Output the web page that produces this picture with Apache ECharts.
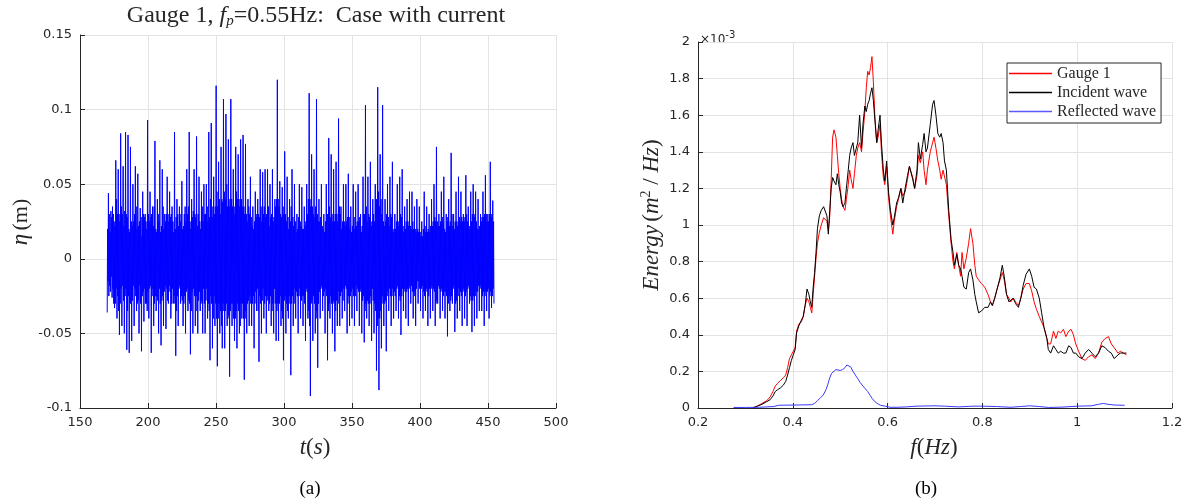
<!DOCTYPE html>
<html><head><meta charset="utf-8">
<script src="https://cdn.jsdelivr.net/npm/echarts@6/dist/echarts.min.js"></script>
<style>html,body{margin:0;padding:0;background:#fff}#c{width:1190px;height:502px}</style>
</head><body><div id="c"></div>
<script>
// ---- Panel (a): surface elevation time series ----
const etaStart = 170;      // s
const etaStep = 0.3;       // s between successive samples
// main crests / troughs (every third sample)
const etaExtremes = [
-0.036,0.044,-0.018,0.032,-0.026,0.03,-0.033,0.066,-0.04,0.06,
-0.051,0.084,-0.045,0.062,-0.05,0.085,-0.061,0.083,-0.063,0.075,
-0.055,0.05,-0.045,0.062,-0.035,0.057,-0.05,0.034,-0.062,0.045,
-0.042,0.03,-0.03,0.093,-0.04,0.045,-0.063,0.035,-0.045,0.079,
-0.035,0.04,-0.05,0.066,-0.058,0.06,-0.045,0.03,-0.047,0.055,
-0.03,0.045,-0.04,0.035,-0.03,0.085,-0.065,0.04,-0.045,0.035,
-0.03,0.052,-0.045,0.03,-0.05,0.06,-0.035,0.085,-0.064,0.04,
-0.05,0.06,-0.045,0.082,-0.05,0.055,-0.035,0.045,-0.05,0.05,
-0.05,0.05,-0.04,0.085,-0.068,0.091,-0.06,0.055,-0.045,0.116,
-0.072,0.065,-0.05,0.075,-0.06,0.107,-0.06,0.097,-0.045,0.08,
-0.079,0.107,-0.045,0.06,-0.055,0.075,-0.06,0.07,-0.05,0.08,
-0.04,0.083,-0.081,0.077,-0.05,0.04,-0.045,0.055,-0.045,0.035,
-0.06,0.045,-0.035,0.04,-0.069,0.06,-0.05,0.058,-0.04,0.06,
-0.05,0.06,-0.035,0.05,-0.045,0.06,-0.05,0.04,-0.055,0.12,
-0.055,0.052,-0.045,0.048,-0.068,0.072,-0.05,0.055,-0.04,0.04,
-0.078,0.06,-0.045,0.05,-0.04,0.03,-0.05,0.05,-0.04,0.048,
-0.045,0.035,-0.055,0.05,-0.04,0.111,-0.092,0.07,-0.055,0.06,
-0.05,0.107,-0.073,0.04,-0.04,0.05,-0.035,0.03,-0.05,0.05,
-0.068,0.081,-0.04,0.07,-0.05,0.06,-0.062,0.065,-0.045,0.094,
-0.045,0.035,-0.04,0.05,-0.035,0.05,-0.05,0.057,-0.045,0.035,
-0.04,0.05,-0.045,0.045,-0.035,0.05,-0.045,0.03,-0.05,0.055,
-0.056,0.103,-0.04,0.055,-0.045,0.065,-0.055,0.04,-0.05,0.05,
-0.075,0.115,-0.088,0.07,-0.06,0.103,-0.045,0.04,-0.062,0.05,
-0.035,0.055,-0.045,0.065,-0.04,0.03,-0.035,0.05,-0.04,0.055,
-0.051,0.06,-0.035,0.035,-0.04,0.04,-0.045,0.045,-0.03,0.045,
-0.04,0.035,-0.045,0.04,-0.03,0.035,-0.035,0.025,-0.04,0.045,
-0.035,0.035,-0.045,0.03,-0.04,0.04,-0.035,0.05,-0.045,0.075,
-0.03,0.03,-0.04,0.045,-0.035,0.055,-0.04,0.03,-0.052,0.04,
-0.035,0.071,-0.03,0.03,-0.049,0.045,-0.04,0.055,-0.035,0.045,
-0.045,0.03,-0.04,0.056,-0.045,0.035,-0.03,0.045,-0.049,0.05,
-0.045,0.045,-0.04,0.04,-0.035,0.03,-0.035,0.045,-0.045,0.056,
-0.035,0.03,-0.04,0.065,-0.033,0.039,-0.03
];
// the two samples between each pair of successive extremes
const etaInner = [
0.02,-0.015,-0.025,0.03,0.018,-0.022,-0.012,0.028,0.035,-0.02,-0.03,0.025,0.022,-0.03,-0.02,0.04,0.03,-0.025,-0.035,0.03,
0.025,-0.03,-0.02,0.035,0.03,-0.018,-0.028,0.022,0.032,-0.025,-0.02,0.03,0.028,-0.035,-0.025,0.02,0.018,-0.03,-0.03,0.025,
0.022,-0.028,-0.018,0.025,0.03,-0.02,-0.025,0.035,0.02,-0.03,-0.028,0.022,0.025,-0.018,-0.03,0.028,0.015,-0.025,-0.022,0.03,
0.028,-0.02,-0.03,0.025,0.02,-0.035,-0.022,0.03,0.025,-0.02,-0.018,0.028,0.03,-0.025,-0.02,0.022,0.035,-0.03,-0.025,0.02,
0.018,-0.025,-0.028,0.03,0.025,-0.02,-0.03,0.018,0.022,-0.028,-0.025,0.035,0.02,-0.022,-0.018,0.025,0.03,-0.02,-0.028,0.03,
0.025,-0.018,-0.022,0.028,0.03,-0.03,-0.02,0.025,0.018,-0.025,-0.03,0.02,0.028,-0.035,-0.025,0.03,0.022,-0.02,-0.018,0.025,
0.03,-0.025,-0.028,0.02,0.022,-0.03,-0.025,0.035,0.025,-0.022,-0.02,0.03,0.035,-0.028,-0.03,0.025,0.02,-0.035,-0.022,0.028,
0.032,-0.02,-0.025,0.03,0.028,-0.025,-0.035,0.022,0.03,-0.028,-0.022,0.025,0.02,-0.03,-0.028,0.035,0.025,-0.02,-0.03,0.03,
0.03,-0.028,-0.02,0.035,0.025,-0.03,-0.035,0.028,0.04,-0.025,-0.03,0.035,0.028,-0.04,-0.025,0.03,0.035,-0.03,-0.04,0.045,
0.035,-0.04,-0.03,0.04,0.03,-0.035,-0.045,0.04,0.038,-0.03,-0.035,0.045,0.04,-0.035,-0.03,0.05,0.035,-0.04,-0.038,0.035,
0.04,-0.035,-0.03,0.04,0.035,-0.03,-0.04,0.035,0.03,-0.04,-0.035,0.045,0.04,-0.03,-0.035,0.04,0.035,-0.045,-0.03,0.04,
0.035,-0.03,-0.04,0.035,0.03,-0.04,-0.035,0.03,0.025,-0.03,-0.028,0.035,0.03,-0.025,-0.03,0.028,0.022,-0.03,-0.025,0.02,
0.025,-0.03,-0.022,0.028,0.03,-0.02,-0.035,0.03,0.028,-0.025,-0.03,0.035,0.025,-0.028,-0.02,0.03,0.035,-0.03,-0.025,0.028,
0.03,-0.025,-0.028,0.035,0.022,-0.03,-0.025,0.028,0.03,-0.035,-0.03,0.025,0.028,-0.02,-0.03,0.035,0.04,-0.035,-0.03,0.04,
0.035,-0.03,-0.025,0.03,0.028,-0.035,-0.04,0.035,0.03,-0.028,-0.025,0.03,0.025,-0.03,-0.035,0.028,0.02,-0.025,-0.03,0.025,
0.035,-0.03,-0.025,0.028,0.022,-0.03,-0.02,0.025,0.018,-0.022,-0.025,0.02,0.028,-0.025,-0.02,0.025,0.022,-0.028,-0.025,0.02,
0.02,-0.025,-0.03,0.022,0.025,-0.02,-0.022,0.03,0.04,-0.035,-0.045,0.04,0.035,-0.03,-0.028,0.035,0.03,-0.025,-0.03,0.028,
0.035,-0.04,-0.035,0.03,0.025,-0.03,-0.022,0.025,0.028,-0.02,-0.018,0.022,0.02,-0.025,-0.022,0.018,0.025,-0.02,-0.025,0.03,
0.03,-0.035,-0.03,0.035,0.028,-0.025,-0.03,0.03,0.025,-0.028,-0.03,0.025,0.03,-0.035,-0.028,0.03,0.025,-0.022,-0.03,0.035,
0.03,-0.025,-0.022,0.02,0.025,-0.028,-0.02,0.025,0.022,-0.018,-0.02,0.025,0.028,-0.03,-0.025,0.028,0.02,-0.025,-0.022,0.018,
0.022,-0.02,-0.025,0.028,0.02,-0.025,-0.018,0.022,0.025,-0.02,-0.022,0.025,0.028,-0.022,-0.02,0.018,0.022,-0.028,-0.025,0.03,
0.03,-0.035,-0.03,0.035,0.025,-0.028,-0.03,0.03,0.028,-0.03,-0.025,0.022,0.025,-0.02,-0.028,0.03,0.025,-0.03,-0.035,0.04,
0.04,-0.045,-0.04,0.045,0.035,-0.04,-0.035,0.04,0.03,-0.025,-0.03,0.025,0.022,-0.03,-0.028,0.025,0.03,-0.025,-0.022,0.028,
0.022,-0.02,-0.025,0.03,0.028,-0.025,-0.02,0.018,0.02,-0.022,-0.025,0.02,0.025,-0.02,-0.018,0.025,0.022,-0.025,-0.028,0.03,
0.028,-0.025,-0.02,0.022,0.018,-0.02,-0.022,0.02,0.025,-0.022,-0.02,0.025,0.022,-0.018,-0.02,0.022,0.02,-0.018,-0.022,0.025,
0.02,-0.022,-0.025,0.02,0.018,-0.02,-0.015,0.02,0.018,-0.015,-0.02,0.018,0.015,-0.02,-0.018,0.015,0.02,-0.022,-0.025,0.022,
0.018,-0.02,-0.022,0.018,0.02,-0.025,-0.02,0.018,0.022,-0.02,-0.018,0.022,0.025,-0.02,-0.022,0.028,0.025,-0.03,-0.028,0.025,
0.022,-0.018,-0.02,0.022,0.025,-0.022,-0.02,0.028,0.025,-0.025,-0.022,0.02,0.018,-0.022,-0.025,0.025,0.028,-0.03,-0.025,0.022,
0.025,-0.028,-0.025,0.03,0.022,-0.02,-0.018,0.02,0.025,-0.03,-0.028,0.025,0.022,-0.025,-0.02,0.028,0.025,-0.022,-0.025,0.028,
0.025,-0.022,-0.02,0.025,0.028,-0.025,-0.022,0.03,0.025,-0.02,-0.018,0.022,0.02,-0.025,-0.028,0.025,0.03,-0.028,-0.025,0.03,
0.028,-0.025,-0.022,0.025,0.02,-0.022,-0.018,0.02,0.022,-0.018,-0.02,0.025,0.028,-0.025,-0.022,0.028,0.03,-0.025,-0.022,0.03,
0.025,-0.022,-0.02,0.025,0.03,-0.025,-0.022,0.028,0.03,-0.025,-0.02,0.025
];

// ---- Panel (b): energy spectra (values in units of 1e-3 m^2/Hz) ----
const specFreq = [
0.315,0.325,0.335,0.345,0.352,0.358,0.363,0.368,0.374,0.38,0.385,0.389,0.393,0.397,0.401,0.405,0.408,0.413,0.418,0.422,
0.426,0.43,0.434,0.437,0.44,0.443,0.446,0.449,0.452,0.456,0.46,0.465,0.469,0.472,0.475,0.478,0.481,0.484,0.487,0.491,
0.494,0.497,0.5,0.503,0.506,0.51,0.513,0.517,0.52,0.523,0.527,0.53,0.534,0.537,0.541,0.545,0.548,0.552,0.555,0.558,
0.561,0.564,0.567,0.57,0.573,0.577,0.58,0.584,0.587,0.591,0.594,0.598,0.602,0.606,0.611,0.614,0.619,0.623,0.628,0.632,
0.637,0.642,0.646,0.65,0.653,0.657,0.662,0.665,0.669,0.674,0.677,0.681,0.684,0.69,0.695,0.698,0.702,0.706,0.71,0.713,
0.717,0.72,0.724,0.729,0.734,0.738,0.741,0.746,0.75,0.754,0.757,0.761,0.766,0.771,0.775,0.78,0.784,0.787,0.792,0.798,
0.805,0.812,0.817,0.821,0.826,0.831,0.837,0.842,0.846,0.851,0.856,0.86,0.865,0.87,0.876,0.881,0.886,0.892,0.899,0.904,
0.909,0.914,0.92,0.925,0.93,0.936,0.939,0.944,0.95,0.955,0.96,0.965,0.971,0.976,0.982,0.987,0.992,0.997,1.003,1.01,
1.017,1.024,1.031,1.038,1.045,1.052,1.059,1.066,1.072,1.078,1.086,1.091,1.098,1.104
];
const gaugeEnergy = [
0,0.01,0.025,0.04,0.06,0.09,0.12,0.135,0.15,0.165,0.18,0.22,0.27,0.29,0.31,0.33,0.42,0.46,0.47,0.5,
0.56,0.6,0.58,0.55,0.52,0.62,0.72,0.82,0.9,0.96,1.0,1.04,1.05,1.02,0.97,1.05,1.25,1.48,1.52,1.48,
1.38,1.28,1.2,1.14,1.1,1.08,1.14,1.22,1.3,1.25,1.2,1.28,1.38,1.42,1.45,1.4,1.5,1.62,1.75,1.84,
1.82,1.86,1.92,1.78,1.6,1.45,1.48,1.55,1.4,1.26,1.22,1.32,1.15,1.05,0.95,1.02,1.1,1.14,1.2,1.16,
1.18,1.25,1.32,1.33,1.26,1.2,1.27,1.38,1.34,1.4,1.3,1.22,1.3,1.4,1.45,1.48,1.42,1.35,1.3,1.25,
1.3,1.3,1.22,1.05,0.9,0.8,0.76,0.85,0.78,0.72,0.85,0.76,0.82,0.9,0.98,0.9,0.78,0.72,0.7,0.68,
0.66,0.62,0.58,0.56,0.6,0.65,0.7,0.74,0.7,0.62,0.6,0.58,0.6,0.58,0.56,0.6,0.65,0.68,0.68,0.64,
0.58,0.54,0.5,0.47,0.44,0.38,0.35,0.35,0.42,0.38,0.42,0.41,0.43,0.39,0.42,0.43,0.4,0.35,0.31,0.27,
0.26,0.28,0.29,0.27,0.3,0.36,0.38,0.39,0.35,0.33,0.3,0.31,0.3,0.29
];
const incidentEnergy = [
0,0.01,0.02,0.035,0.045,0.065,0.09,0.1,0.11,0.125,0.145,0.18,0.22,0.26,0.29,0.32,0.41,0.45,0.48,0.5,
0.56,0.65,0.62,0.58,0.55,0.66,0.74,0.85,0.98,1.05,1.08,1.1,1.1,1.05,0.95,1.08,1.2,1.26,1.24,1.22,
1.28,1.22,1.18,1.12,1.1,1.12,1.2,1.3,1.38,1.42,1.45,1.38,1.42,1.45,1.6,1.42,1.55,1.65,1.62,1.66,
1.68,1.72,1.75,1.68,1.58,1.45,1.52,1.6,1.45,1.3,1.24,1.35,1.18,1.08,1.0,1.04,1.12,1.15,1.2,1.12,
1.2,1.27,1.32,1.33,1.25,1.2,1.3,1.45,1.36,1.44,1.5,1.4,1.42,1.55,1.66,1.68,1.6,1.5,1.48,1.5,
1.45,1.35,1.3,1.08,0.92,0.85,0.78,0.84,0.78,0.76,0.72,0.66,0.65,0.74,0.76,0.7,0.62,0.58,0.52,0.53,
0.55,0.55,0.58,0.56,0.6,0.65,0.71,0.78,0.72,0.62,0.58,0.57,0.6,0.57,0.55,0.6,0.67,0.73,0.76,0.72,
0.66,0.65,0.6,0.52,0.44,0.38,0.32,0.3,0.34,0.32,0.3,0.31,0.3,0.3,0.34,0.33,0.3,0.3,0.28,0.27,
0.3,0.32,0.3,0.28,0.3,0.34,0.33,0.31,0.3,0.27,0.29,0.3,0.3,0.3
];
const reflFreq = [
0.275,0.3,0.33,0.36,0.37,0.4,0.44,0.446,0.452,0.458,0.464,0.47,0.474,0.478,0.482,0.486,0.491,0.495,0.5,0.505,
0.51,0.514,0.518,0.522,0.527,0.532,0.537,0.542,0.548,0.553,0.558,0.563,0.568,0.573,0.578,0.585,0.595,0.605,0.62,0.64,
0.66,0.7,0.72,0.75,0.78,0.8,0.83,0.86,0.88,0.9,0.92,0.94,0.97,1.0,1.03,1.045,1.055,1.065,1.08,1.1
];
const reflectedEnergy = [
0.003,0.003,0.004,0.008,0.015,0.016,0.018,0.025,0.04,0.055,0.07,0.1,0.13,0.165,0.19,0.2,0.21,0.2,0.205,0.21,
0.22,0.235,0.24,0.225,0.2,0.18,0.16,0.14,0.12,0.105,0.09,0.07,0.05,0.035,0.025,0.015,0.01,0.004,0.004,0.006,
0.01,0.012,0.01,0.006,0.01,0.01,0.008,0.004,0.008,0.012,0.008,0.003,0.005,0.01,0.012,0.02,0.025,0.02,0.016,0.015
];
const seriesNames = ['Gauge 1', 'Incident wave', 'Reflected wave'];

// build the elevation table: extreme, inner, inner, extreme, ...
const etaData = [];
etaExtremes.forEach((v, i) => {
  etaData.push([etaStart + etaData.length * etaStep, v]);
  if (i < etaExtremes.length - 1) {
    etaData.push([etaStart + etaData.length * etaStep, etaInner[2 * i]]);
    etaData.push([etaStart + etaData.length * etaStep, etaInner[2 * i + 1]]);
  }
});
const pair = (fs, es) => fs.map((f, i) => [f, es[i]]);

const AX = '#262626';
function axisCommon(extra, margin) {
  return Object.assign({
    type: 'value',
    axisLine: { show: true, onZero: false, lineStyle: { color: AX, width: 1 } },
    axisTick: { show: true, inside: true, length: 5, lineStyle: { color: AX } },
    axisLabel: { color: AX, fontFamily: 'DejaVu Sans', fontSize: 13, margin: margin },
    splitLine: { show: true, lineStyle: { color: '#e3e3e3', width: 1 } }
  }, extra);
}
const serif = 'Liberation Serif';
const chart = echarts.init(document.getElementById('c'), null, { renderer: 'canvas' });
chart.setOption({
  animation: false,
  backgroundColor: '#fff',
  grid: [
    { left: 80, top: 35, width: 476, height: 373 },
    { left: 698, top: 42, width: 474, height: 366 }
  ],
  xAxis: [
    axisCommon({ gridIndex: 0, min: 150, max: 500, interval: 50 }, 8),
    axisCommon({ gridIndex: 1, min: 0.2, max: 1.2, interval: 0.2 }, 8)
  ],
  yAxis: [
    axisCommon({ gridIndex: 0, min: -0.1, max: 0.15, interval: 0.05 }, 8),
    axisCommon({ gridIndex: 1, min: 0, max: 2, interval: 0.2 }, 8)
  ],
  legend: {
    data: seriesNames, orient: 'vertical', left: 1007, top: 63,
    icon: 'rect', itemWidth: 43, itemHeight: 1.5, itemGap: 2, selectedMode: false,
    padding: [2, 5, 3, 2], borderColor: AX, borderWidth: 1, backgroundColor: '#fff',
    textStyle: { fontFamily: serif, fontSize: 16, lineHeight: 17, color: AX }
  },
  series: [
    { type: 'line', xAxisIndex: 0, yAxisIndex: 0, data: etaData, showSymbol: false, symbol: 'none',
      lineStyle: { color: '#0000ff', width: 1 }, itemStyle: { color: '#0000ff' } },
    { name: seriesNames[0], type: 'line', xAxisIndex: 1, yAxisIndex: 1, data: pair(specFreq, gaugeEnergy), symbol: 'none',
      lineStyle: { color: '#ff0000', width: 1 }, itemStyle: { color: '#ff0000' }, z: 3 },
    { name: seriesNames[1], type: 'line', xAxisIndex: 1, yAxisIndex: 1, data: pair(specFreq, incidentEnergy), symbol: 'none',
      lineStyle: { color: '#000000', width: 1 }, itemStyle: { color: '#000000' }, z: 4 },
    { name: seriesNames[2], type: 'line', xAxisIndex: 1, yAxisIndex: 1, data: pair(reflFreq, reflectedEnergy), symbol: 'none',
      lineStyle: { color: '#3a3aff', width: 1 }, itemStyle: { color: '#5a5aff' }, z: 5 }
  ],
  graphic: [
    { type: 'text', x: 316, y: 16, style: {
        text: '{n|Gauge 1, }{i|f}{s|p}{n|=0.55Hz:  Case with current}',
        align: 'center', verticalAlign: 'middle',
        rich: { n: { fontFamily: serif, fontSize: 24, fill: '#262626' },
                i: { fontFamily: serif, fontSize: 24, fontStyle: 'italic', fill: '#262626' },
                s: { fontFamily: serif, fontSize: 15, fontStyle: 'italic', fill: '#262626', padding: [10, 0, 0, 0] } } } },
    { type: 'text', x: 21, y: 222, rotation: Math.PI / 2, style: {
        text: '{i|η} {n|(m)}', align: 'center', verticalAlign: 'middle',
        rich: { i: { fontFamily: serif, fontSize: 23, fontStyle: 'italic', fill: '#262626' },
                n: { fontFamily: serif, fontSize: 22, fill: '#262626' } } } },
    { type: 'text', x: 315, y: 448, style: {
        text: '{i|t}{n|(}{i|s}{n|)}', align: 'center', verticalAlign: 'middle',
        rich: { i: { fontFamily: serif, fontSize: 23, fontStyle: 'italic', fill: '#262626' },
                n: { fontFamily: serif, fontSize: 23, fill: '#262626' } } } },
    { type: 'text', x: 310, y: 489, style: { text: '(a)', align: 'center', verticalAlign: 'middle',
        fontFamily: serif, fontSize: 19, fill: '#000' } },
    { type: 'text', x: 934, y: 448, style: {
        text: '{i|f}{n|(}{i|Hz}{n|)}', align: 'center', verticalAlign: 'middle',
        rich: { i: { fontFamily: serif, fontSize: 23, fontStyle: 'italic', fill: '#262626' },
                n: { fontFamily: serif, fontSize: 23, fill: '#262626' } } } },
    { type: 'text', x: 926, y: 489, style: { text: '(b)', align: 'center', verticalAlign: 'middle',
        fontFamily: serif, fontSize: 19, fill: '#000' } },
    { type: 'text', x: 652, y: 215, rotation: Math.PI / 2, style: {
        text: '{i|Energy} {n|(}{i|m}{s|2}{n| / }{i|Hz}{n|)}', align: 'center', verticalAlign: 'middle',
        rich: { i: { fontFamily: serif, fontSize: 23, fontStyle: 'italic', fill: '#262626' },
                n: { fontFamily: serif, fontSize: 23, fill: '#262626' },
                s: { fontFamily: serif, fontSize: 14, fill: '#262626', padding: [0, 0, 11, 0] } } } },
    { type: 'text', x: 700, y: 40, style: {
        text: '{n|×10}{s|-3}', align: 'left', verticalAlign: 'middle',
        rich: { n: { fontFamily: 'DejaVu Sans', fontSize: 12, fill: '#262626' },
                s: { fontFamily: 'DejaVu Sans', fontSize: 10, fill: '#262626', padding: [0, 0, 9, 0] } } } }
  ]
});
</script></body></html>
